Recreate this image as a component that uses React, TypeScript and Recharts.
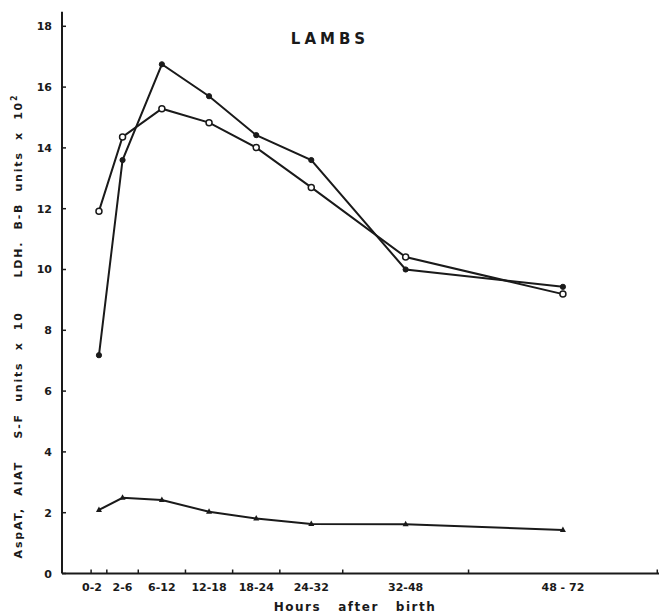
import React from 'react'
import { LineChart, Line, XAxis, YAxis } from 'recharts'

// hours after birth: middle of each sampling interval
const HOURS = [1, 4, 9, 15, 21, 28, 40, 60]
const INTERVAL_LABELS = ['0-2', '2-6', '6-12', '12-18', '18-24', '24-32', '32-48', '48 - 72']
const INTERVAL_EDGES = [0, 2, 6, 12, 18, 24, 32, 48, 72]

const FILLED = [7.18, 13.6, 16.75, 15.7, 14.42, 13.6, 10.0, 9.43]
const OPEN = [11.92, 14.36, 15.29, 14.83, 14.01, 12.7, 10.41, 9.19]
const TRIANGLES = [2.09, 2.49, 2.42, 2.03, 1.81, 1.63, 1.62, 1.43]

const Y_TICKS = [0, 2, 4, 6, 8, 10, 12, 14, 16, 18]

const INK = '#1a1a1a'
const FONT = '"DejaVu Sans", sans-serif'

const data = HOURS.map((h, i) => ({
  h,
  filled: FILLED[i],
  open: OPEN[i],
  tri: TRIANGLES[i]
}))

const xTicks = [...INTERVAL_EDGES, ...HOURS].sort((a, b) => a - b)

const XTick = ({ x, y, payload }: any) => {
  const v = payload?.value
  const idx = HOURS.indexOf(v)
  if (idx >= 0) {
    // first label sits a bit left so it doesn't crowd "2-6"
    const nudge = idx === 0 ? -7 : 0
    return (
      <text
        x={x + nudge}
        y={y + 17}
        textAnchor="middle"
        fontFamily={FONT}
        fontWeight="bold"
        fontSize={11}
        fill={INK}
      >
        {INTERVAL_LABELS[idx]}
      </text>
    )
  }
  return <line x1={x} x2={x} y1={y} y2={y - 4} stroke={INK} strokeWidth={1.5} />
}

const YTick = ({ x, y, payload }: any) => (
  <g>
    <line x1={x} x2={x + 4} y1={y} y2={y} stroke={INK} strokeWidth={1.5} />
    <text
      x={x - 10}
      y={y + 4}
      textAnchor="end"
      fontFamily={FONT}
      fontWeight="bold"
      fontSize={11}
      fill={INK}
    >
      {payload?.value}
    </text>
  </g>
)

const Extras = () => (
  <g>
    <text
      x={322}
      y={36}
      textAnchor="middle"
      fontFamily={FONT}
      fontWeight="bold"
      fontSize={15}
      letterSpacing={4}
      fill={INK}
    >
      LAMBS
    </text>
    <text
      transform="translate(14, 318) rotate(-90)"
      textAnchor="middle"
      fontFamily={FONT}
      fontWeight="bold"
      fontSize={11}
      letterSpacing={1.8}
      fill={INK}
      style={{ whiteSpace: 'pre' }}
    >
      {'AspAT,  AlAT    S-F  units  x  10      LDH.  B-B  units  x  10'}
      <tspan fontSize={8} dy={-5}>2</tspan>
    </text>
    <text
      x={347}
      y={603}
      textAnchor="middle"
      fontFamily={FONT}
      fontWeight="bold"
      fontSize={12}
      letterSpacing={1.5}
      fill={INK}
      style={{ whiteSpace: 'pre' }}
    >
      {'Hours   after   birth'}
    </text>
  </g>
)

const Triangle = (props: any) => {
  const { cx, cy, index } = props
  if (cx == null || cy == null) return <g key={`t-${index}`} />
  return (
    <polygon
      key={`t-${index}`}
      points={`${cx},${cy - 3.5} ${cx - 3},${cy + 2} ${cx + 3},${cy + 2}`}
      fill={INK}
    />
  )
}

export default function App() {
  return (
    <div style={{ width: 659, height: 605, background: '#fff' }}>
      <LineChart
        width={659}
        height={605}
        data={data}
        margin={{ top: 3.7, right: 5, left: 0, bottom: 0 }}
      >
        <XAxis
          dataKey="h"
          type="number"
          domain={[-3.7, 72.6]}
          ticks={xTicks}
          interval={0}
          tick={<XTick />}
          tickLine={false}
          tickSize={0}
          tickMargin={0}
          height={39.5}
          axisLine={{ stroke: INK, strokeWidth: 2 }}
          allowDataOverflow
        />
        <YAxis
          type="number"
          domain={[0, 18.48]}
          ticks={Y_TICKS}
          interval={0}
          tick={<YTick />}
          tickLine={false}
          tickSize={0}
          tickMargin={0}
          width={54}
          axisLine={{ stroke: INK, strokeWidth: 2 }}
          allowDataOverflow
          label={<Extras />}
        />
        <Line
          dataKey="tri"
          stroke={INK}
          strokeWidth={2}
          dot={Triangle}
          isAnimationActive={false}
        />
        <Line
          dataKey="filled"
          stroke={INK}
          strokeWidth={2}
          dot={{ r: 2.6, fill: INK, stroke: INK, strokeWidth: 1 }}
          isAnimationActive={false}
        />
        <Line
          dataKey="open"
          stroke={INK}
          strokeWidth={2}
          dot={{ r: 3, fill: '#fff', stroke: INK, strokeWidth: 1.5 }}
          isAnimationActive={false}
        />
      </LineChart>
    </div>
  )
}
